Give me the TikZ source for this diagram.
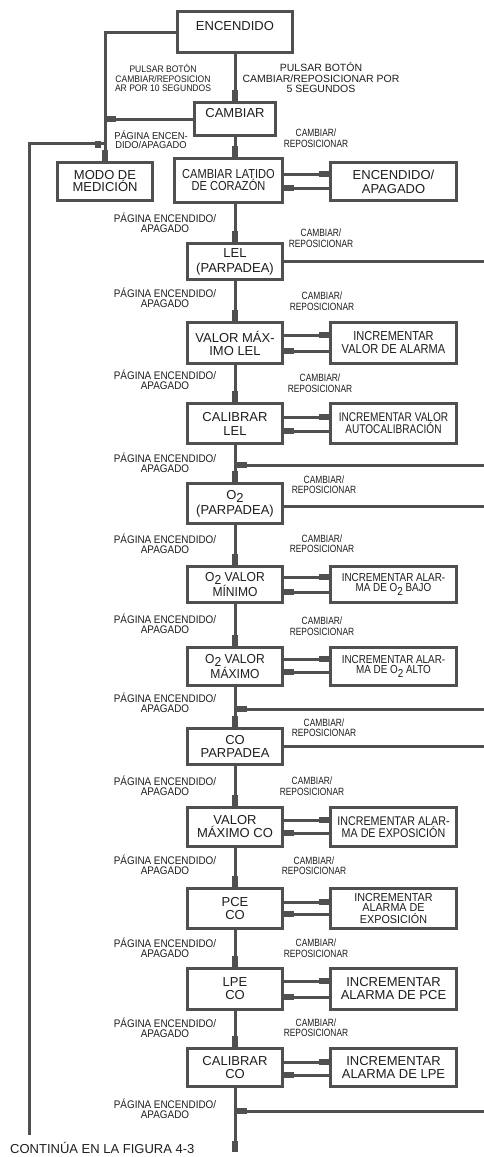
\documentclass[tikz,border=0pt]{standalone}
\usepackage{fontspec}
\setmainfont{Liberation Sans}
\newfontfamily\fsA{Liberation Sans}[FakeStretch=0.90]
\newfontfamily\fsB{Liberation Sans}[FakeStretch=0.80]
\newfontfamily\fsC{Liberation Sans}[FakeStretch=0.85]
\newfontfamily\fsD{Liberation Sans}[FakeStretch=0.93]
\usetikzlibrary{arrows.meta,calc}
\definecolor{lc}{HTML}{505050}
\definecolor{tc}{HTML}{1E1E1E}
\newcommand\osub{O\raisebox{-3.5pt}{2}}
\newcommand\pairlink[4]{%
  \coordinate (pu) at ($(#1.east)+(0,#3)$);
  \coordinate (pl) at ($(#1.east)+(0,#4)$);
  \draw[conn,pstub] (pu) -- (pu -| #2.west);
  \draw[conn,pstub] (pl -| #2.west) -- (pl);}
\begin{document}
\begin{tikzpicture}[x=1pt,y=-1pt,
  box/.style={draw=lc,line width=3pt,inner sep=0pt,align=center,text=tc,font=\fontsize{13}{13}\selectfont},
  mb/.style={box,minimum width=95pt},
  rb/.style={box,minimum width=126pt},
  conn/.style={draw=lc,line width=3pt},
  stub/.style={-{Rectangle[length=11pt,width=5.5pt]}},
  pstub/.style={-{Rectangle[length=10pt,width=5.5pt]}},
  rstub/.style={-{Rectangle[length=12pt,width=5.5pt]}},
  pg/.style={text=tc,align=center,inner sep=0pt,font=\fsA\fontsize{11}{10}\selectfont},
  cr/.style={text=tc,align=center,inner sep=0pt,font=\fsB\fontsize{10.5}{10.5}\selectfont},
]
\fill[white] (0,0) rectangle (483,1157);
\useasboundingbox (0,0) rectangle (483,1157);

% boxes
\node[box,minimum width=115pt,minimum height=41pt] (enc) at (235,32) {ENCENDIDO\\~};
\node[box,minimum width=81pt,minimum height=33pt] (camb) at (235,119) {CAMBIAR\\~};
\node[mb,minimum height=38pt,font=\fontsize{13}{12}\selectfont] (modo) at (105,181.5) {MODO DE\\MEDICIÓN};
\node[box,minimum width=108pt,minimum height=44pt,font=\fsC\fontsize{13}{12}\selectfont] (clat) at (228.5,180.5) {CAMBIAR LATIDO\\DE CORAZÓN};
\node[rb,minimum height=38pt,font=\fontsize{13}{14}\selectfont] (ea) at (393.5,181.5) {ENCENDIDO/\\APAGADO};
\node[mb,minimum height=36pt,font=\fontsize{13}{15}\selectfont] (lel) at (235,261.5) {LEL\\(PARPADEA)};
\node[mb,minimum height=41pt] (vml) at (235,343) {VALOR MÁX-\\IMO LEL};
\node[rb,minimum height=41pt,font=\fsC\fontsize{13}{13}\selectfont] (inc1) at (393.5,343) {INCREMENTAR\\VALOR DE ALARMA};
\node[mb,minimum height=40pt,font=\fontsize{13}{14}\selectfont] (cll) at (235,423.5) {CALIBRAR\\LEL};
\node[rb,minimum height=40pt,font=\fsB\fontsize{12.6}{11}\selectfont] (inc2) at (393.5,423.5) {INCREMENTAR VALOR\\AUTOCALIBRACIÓN};
\node[mb,minimum height=40pt,font=\fontsize{13}{15}\selectfont] (o2p) at (235,503.5) {\osub\\(PARPADEA)};
\node[mb,minimum height=36pt,font=\fsD\fontsize{13}{11}\selectfont] (o2min) at (235,584.5) {\osub\ VALOR\\MÍNIMO};
\node[rb,minimum height=36pt,font=\fsC\fontsize{11.6}{10}\selectfont] (inc3) at (393.5,584.5) {INCREMENTAR ALAR-\\MA DE \osub\ BAJO};
\node[mb,minimum height=38pt,font=\fsD\fontsize{13}{10}\selectfont] (o2max) at (235,666.5) {\osub\ VALOR\\MÁXIMO};
\node[rb,minimum height=38pt,font=\fsC\fontsize{11.6}{10}\selectfont] (inc4) at (393.5,666.5) {INCREMENTAR ALAR-\\MA DE \osub\ ALTO};
\node[mb,minimum height=36pt] (cop) at (235,746.5) {CO\\PARPADEA};
\node[mb,minimum height=39pt] (vmco) at (235,827) {VALOR\\MÁXIMO CO};
\node[rb,minimum height=39pt,font=\fsC\fontsize{12.6}{9}\selectfont] (inc5) at (393.5,827) {INCREMENTAR ALAR-\\MA DE EXPOSICIÓN};
\node[mb,minimum height=40pt] (pce) at (235,908.5) {PCE\\CO};
\node[rb,minimum height=40pt,font=\fsD\fontsize{11.6}{10}\selectfont] (inc6) at (393.5,908.5) {INCREMENTAR\\ALARMA DE\\EXPOSICIÓN};
\node[mb,minimum height=41pt] (lpe) at (235,989) {LPE\\CO};
\node[rb,minimum height=41pt] (inc7) at (393.5,989) {INCREMENTAR\\ALARMA DE PCE};
\node[mb,minimum height=38pt] (calco) at (235,1067.5) {CALIBRAR\\CO};
\node[rb,minimum height=38pt] (inc8) at (393.5,1067.5) {INCREMENTAR\\ALARMA DE LPE};

% labels
\node[text=tc,align=center,inner sep=0pt,font=\fsA\fontsize{9.5}{9.5}\selectfont] (t1) at (163,78) {PULSAR BOTÓN\\CAMBIAR/REPOSICION\\AR POR 10 SEGUNDOS};
\node[text=tc,align=center,inner sep=0pt,font=\fontsize{10.5}{10.8}\selectfont] (t2) at (321,77.5) {PULSAR BOTÓN\\CAMBIAR/REPOSICIONAR POR\\5 SEGUNDOS};
\node[text=tc,align=center,inner sep=0pt,font=\fsD\fontsize{10}{9.5}\selectfont] (t3) at (151,139.5) {PÁGINA ENCEN-\\DIDO/APAGADO};
\node[cr] (cr0) at (316,138) {CAMBIAR/\\REPOSICIONAR};
\foreach \yy [count=\i] in {223,298,380,463,544,624,703,786,865,948,1028,1109}
  \node[pg] (pg\i) at (165,\yy) {PÁGINA ENCENDIDO/\\APAGADO};
\foreach \xx/\yy [count=\i] in {321/238,322/301,320/383,324/484.5,322/543.5,322/626,324/727.5,312/786,314/865.5,316/948,316/1027.5}
  \node[cr] (cr\i) at (\xx,\yy) {CAMBIAR/\\REPOSICIONAR};
\node[anchor=west,text=tc,inner sep=0pt,font=\fontsize{13}{13}\selectfont] (cont) at (10,1148) {CONTINÚA EN LA FIGURA 4-3};

% left part
\draw[conn,stub] (enc.south) -- (camb.north);
\draw[conn,stub] (enc.west) -| (modo.north);
\draw[conn,stub] (camb.west) -- (camb.west -| modo.north);
\coordinate (jl) at (105,143);
\coordinate (bl) at (29,1135);
\draw[conn] (jl) -- (jl -| bl) -- (bl);
\fill[lc] (95,141) rectangle (101,147.5);
\draw[conn,stub] (camb.south) -- (camb.south |- clat.north);

% side pairs
\pairlink{clat}{ea}{-6.5}{7.5}
\pairlink{vml}{inc1}{-8}{8}
\pairlink{cll}{inc2}{-6.5}{7.5}
\pairlink{o2min}{inc3}{-7.5}{7.5}
\pairlink{o2max}{inc4}{-7.5}{5.5}
\pairlink{vmco}{inc5}{-7}{6}
\pairlink{pce}{inc6}{-6.5}{5.5}
\pairlink{lpe}{inc7}{-8}{8}
\pairlink{calco}{inc8}{-5.5}{7.5}

% main chain
\draw[conn,stub] (lel.north |- clat.south) -- (lel.north);
\draw[conn,stub] (lel.south) -- (vml.north);
\draw[conn,stub] (vml.south) -- (cll.north);
\draw[conn,stub] (cll.south) -- (o2p.north);
\draw[conn,stub] (o2p.south) -- (o2min.north);
\draw[conn,stub] (o2min.south) -- (o2max.north);
\draw[conn,stub] (o2max.south) -- (cop.north);
\draw[conn,stub] (cop.south) -- (vmco.north);
\draw[conn,stub] (vmco.south) -- (pce.north);
\draw[conn,stub] (pce.south) -- (lpe.north);
\draw[conn,stub] (lpe.south) -- (calco.north);
\coordinate (bot) at (235,1152);
\draw[conn,stub] (calco.south) -- (bot);

% right outgoing
\coordinate (re) at (486,0);
\draw[conn] (lel.east) -- (lel.east -| re);
\coordinate (o2e) at ($(o2p.east)+(0,2.5)$);
\draw[conn] (o2e) -- (o2e -| re);
\draw[conn] (cop.east) -- (cop.east -| re);

% returns
\coordinate (r1) at (486,465);
\draw[conn,rstub] (r1) -- (r1 -| cll.south);
\coordinate (r2) at (486,709);
\draw[conn,rstub] (r2) -- (r2 -| o2max.south);
\coordinate (r3) at (486,1111);
\draw[conn,rstub] (r3) -- (r3 -| calco.south);
\end{tikzpicture}
\end{document}
